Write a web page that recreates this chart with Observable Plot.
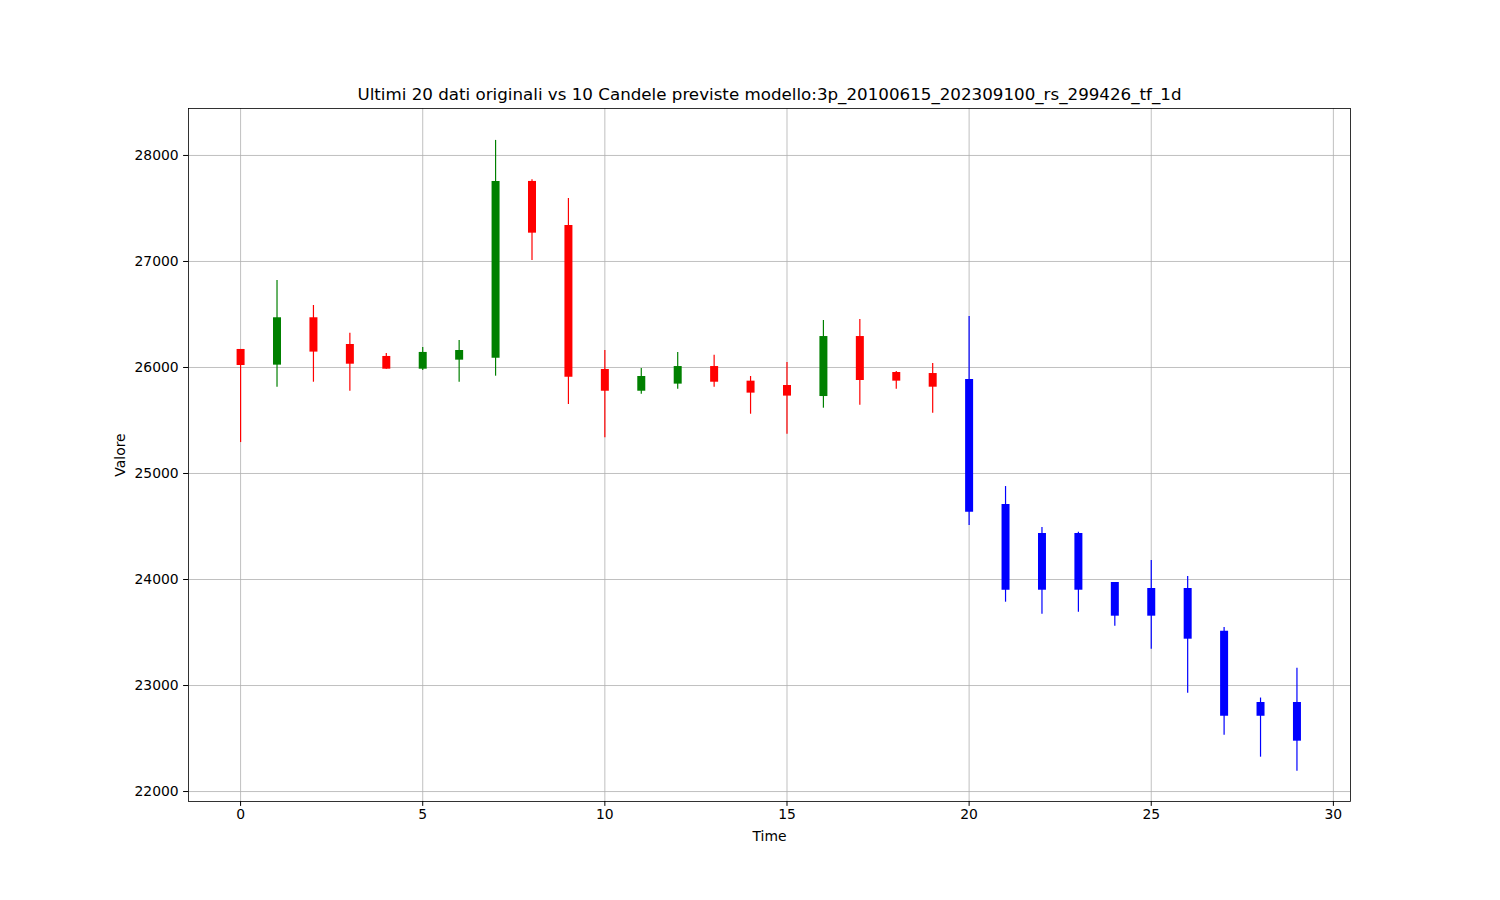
<!DOCTYPE html>
<html>
<head>
<meta charset="utf-8">
<script src="https://cdn.jsdelivr.net/npm/d3@7"></script>
<script src="https://cdn.jsdelivr.net/npm/@observablehq/plot@0.6"></script>
<style>
  html, body { margin: 0; padding: 0; background: #fff; }
  #chart { width: 1500px; height: 900px; }
</style>
</head>
<body>
<div id="chart"></div>
<script>
const titleText = "Ultimi 20 dati originali vs 10 Candele previste modello:3p_20100615_202309100_rs_299426_tf_1d";
const xLabel = "Time";
const yLabel = "Valore";

const time = d3.range(30);
const openV  = [26170, 26022, 26469, 26217, 26104, 25984, 26069, 26088, 27755, 27340,
                25981, 25776, 25843, 26009, 25871, 25830, 25726, 26292, 25953, 25943,
                25887, 24708, 24434, 24434, 23972, 23915, 23915, 23512, 22840, 22840];
const closeV = [26019, 26469, 26145, 26031, 25984, 26142, 26160, 27755, 27267, 25909,
                25776, 25915, 26009, 25861, 25758, 25730, 26292, 25877, 25871, 25814,
                24635, 23899, 23899, 23899, 23654, 23654, 23437, 22710, 22710, 22475];
const highV  = [26170, 26821, 26585, 26324, 26132, 26189, 26255, 28142, 27771, 27594,
                26160, 25991, 26142, 26116, 25915, 26047, 26443, 26453, 25962, 26038,
                26481, 24877, 24491, 24446, 23972, 24179, 24028, 23547, 22882, 23163];
const lowV   = [25292, 25814, 25861, 25776, 25984, 25972, 25861, 25918, 27009, 25651,
                25337, 25748, 25795, 25814, 25559, 25371, 25616, 25644, 25795, 25569,
                24509, 23786, 23673, 23692, 23560, 23343, 22927, 22531, 22324, 22192];
const source = [...Array(20).fill("originale"), ...Array(10).fill("previsto")];

const xTicks = [0, 5, 10, 15, 20, 25, 30];
const yTicks = [22000, 23000, 24000, 25000, 26000, 27000, 28000];

const candles = time.map((t, i) => ({
  t, open: openV[i], close: closeV[i], high: highV[i], low: lowV[i],
  kind: source[i] === "previsto" ? "previsto" : (closeV[i] >= openV[i] ? "rialzo" : "ribasso")
}));

const font = "DejaVu Sans, sans-serif";
const fmt = d => String(d);

const chart = Plot.plot({
  width: 1500,
  height: 900,
  marginLeft: 188,
  marginRight: 150,
  marginTop: 108,
  marginBottom: 99,
  style: { fontFamily: font, fontSize: "13.9px", background: "white", color: "black" },
  x: { domain: [-1.43, 30.47], ticks: xTicks, tickFormat: fmt, label: null },
  y: { domain: [21906, 28443], ticks: yTicks, tickFormat: fmt, label: null },
  color: { domain: ["rialzo", "ribasso", "previsto"], range: ["green", "red", "blue"] },
  marks: [
    Plot.gridX(xTicks, { stroke: "#b0b0b0", strokeOpacity: 1, strokeWidth: 0.8 }),
    Plot.gridY(yTicks, { stroke: "#b0b0b0", strokeOpacity: 1, strokeWidth: 0.8 }),
    Plot.ruleX(candles, { x: "t", y1: "low", y2: "high", stroke: "kind", strokeWidth: 1.2 }),
    Plot.ruleX(candles, { x: "t", y1: "open", y2: "close", stroke: "kind", strokeWidth: 8, strokeLinecap: "butt" }),
    Plot.frame({ stroke: "black", strokeWidth: 0.8 }),
    Plot.axisX(xTicks, { tickSize: 4.9, tickPadding: 3, fontSize: "13.9px", tickFormat: fmt, label: null }),
    Plot.axisY(yTicks, { tickSize: 4.9, tickPadding: 4.9, fontSize: "13.9px", tickFormat: fmt, label: null }),
    Plot.text([titleText], { frameAnchor: "top", dy: -14, lineAnchor: "middle", fontSize: "16.7px", fill: "black" }),
    Plot.text([xLabel], { frameAnchor: "bottom", dy: 35, lineAnchor: "middle", fontSize: "13.9px", fill: "black" }),
    Plot.text([yLabel], { frameAnchor: "left", dx: -68, rotate: -90, lineAnchor: "middle", textAnchor: "middle", fontSize: "13.9px", fill: "black" })
  ]
});

document.getElementById("chart").appendChild(chart);
</script>
</body>
</html>
